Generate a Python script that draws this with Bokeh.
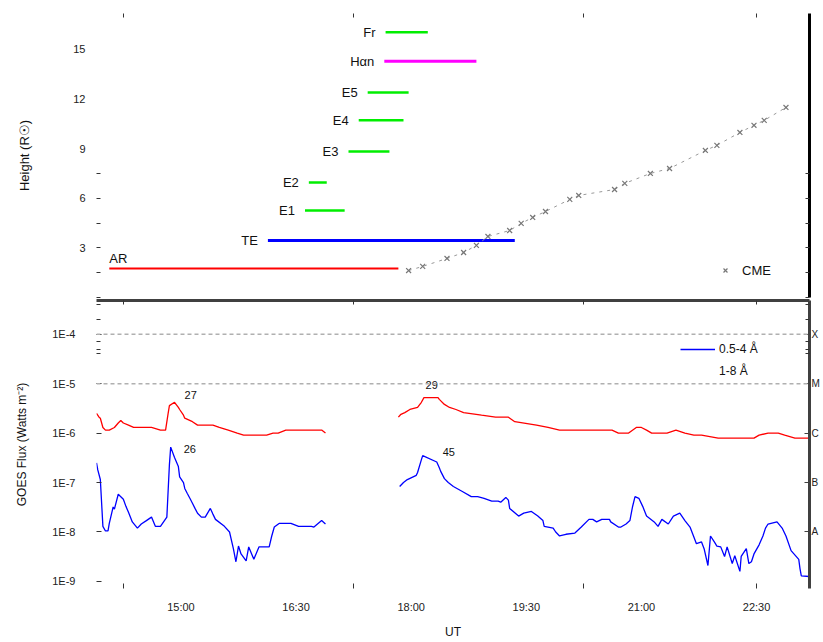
from bokeh.plotting import figure
from bokeh.models import (Range1d, FixedTicker, LinearAxis, LogAxis, CustomJSTickFormatter,
                          Legend, LegendItem, Span, ColumnDataSource)
from bokeh.layouts import column
from bokeh.core.properties import value
from bokeh.embed import file_html
from bokeh.resources import INLINE

FONT = "Liberation Sans"
NAN = float("nan")

# ---------------- data ----------------
event_names = ["AR", "TE", "E1", "E2", "E3", "E4", "E5", "Hαn", "Fr"]
event_start = ["14:04", "16:08", "16:37", "16:40", "17:11", "17:19", "17:26", "17:39", "17:40"]
event_end = ["17:50", "19:21", "17:08", "16:54", "17:43", "17:54", "17:58", "18:51", "18:13"]
event_height = [1.75, 3.45, 5.26, 6.96, 8.83, 10.71, 12.40, 14.28, 16.03]

cme_times = ["17:58", "18:09", "18:28", "18:41", "18:51", "19:00", "19:17", "19:26", "19:35",
             "19:45", "20:04", "20:11", "20:39", "20:47", "21:07", "21:22", "21:50", "21:59",
             "22:17", "22:28", "22:36", "22:53"]
cme_height = [1.63, 1.88, 2.36, 2.72, 3.15, 3.69, 4.05, 4.48, 4.84, 5.20, 5.93, 6.17, 6.53,
              6.90, 7.50, 7.80, 8.89, 9.20, 9.98, 10.41, 10.71, 11.49]

long_times = ["13:54", "13:56", "13:57", "13:59", "14:01", "14:04", "14:08", "14:11", "14:13",
              "14:15", "14:19", "14:23", "14:29", "14:37", "14:44", "14:48", "14:50", "14:51",
              "14:55", "14:58", "14:59", "15:02", "15:03", "15:09", "15:13", "15:21", "15:25",
              "15:30", "15:37", "15:44", "15:49", "16:03", "16:07", "16:12", "16:16", "16:22",
              "16:34", "16:42", "16:50", "16:53", None,
              "17:50", "17:52", "17:55", "17:59", "18:05", "18:08", "18:10", "18:16", "18:21",
              "18:22", "18:26", "18:30", "18:35", "18:41", "18:55", "19:06", "19:16", "19:21",
              "19:38", "19:47", "19:56", "20:17", "20:31", "20:37", "20:42", "20:50", "20:56",
              "21:00", "21:04", "21:08", "21:13", "21:20", "21:27", "21:34", "21:41", "21:47",
              "22:00", "22:16", "22:28", "22:32", "22:39", "22:47", "22:52", "23:00", "23:11"]
long_flux = [2.5e-6, 2.1e-6, 2.0e-6, 1.3e-6, 1.15e-6, 1.15e-6, 1.3e-6, 1.6e-6, 1.8e-6,
             1.6e-6, 1.45e-6, 1.3e-6, 1.3e-6, 1.3e-6, 1.15e-6, 1.15e-6, 2.5e-6, 3.6e-6,
             4.2e-6, 3.3e-6, 3.0e-6, 2.3e-6, 2.0e-6, 1.7e-6, 1.45e-6, 1.45e-6, 1.45e-6,
             1.3e-6, 1.15e-6, 1.0e-6, 9.1e-7, 9.1e-7, 9.1e-7, 1.0e-6, 1.0e-6, 1.15e-6,
             1.15e-6, 1.15e-6, 1.15e-6, 1.0e-6, NAN,
             2.1e-6, 2.4e-6, 2.6e-6, 3.0e-6, 3.3e-6, 4.2e-6, 5.2e-6, 5.2e-6, 5.2e-6,
             4.8e-6, 3.8e-6, 3.3e-6, 3.0e-6, 2.6e-6, 2.3e-6, 2.1e-6, 2.1e-6, 1.7e-6,
             1.45e-6, 1.3e-6, 1.15e-6, 1.15e-6, 1.15e-6, 1.15e-6, 1.0e-6, 1.0e-6, 1.3e-6,
             1.3e-6, 1.15e-6, 1.0e-6, 1.0e-6, 1.0e-6, 1.15e-6, 1.0e-6, 9.1e-7, 9.1e-7,
             7.9e-7, 7.9e-7, 7.9e-7, 9.1e-7, 1.0e-6, 1.0e-6, 9.1e-7, 7.9e-7, 7.9e-7]

short_times = ["13:54", "13:55", "13:57", "13:59", "14:01", "14:03", "14:04", "14:07", "14:08",
               "14:11", "14:15", "14:17", "14:19", "14:22", "14:26", "14:29", "14:33", "14:37",
               "14:40", "14:44", "14:49", "14:51", "14:52", "14:55", "14:58", "14:59", "15:02",
               "15:03", "15:05", "15:07", "15:09", "15:11", "15:13", "15:16", "15:19", "15:23",
               "15:25", "15:27", "15:34", "15:38", "15:41", "15:43", "15:45", "15:47", "15:51",
               "15:53", "15:57", "16:01", "16:05", "16:09", "16:11", "16:13", "16:17", "16:26",
               "16:32", "16:42", "16:44", "16:50", "16:53", None,
               "17:51", "17:54", "17:57", "18:04", "18:05", "18:08", "18:09", "18:20", "18:22",
               "18:23", "18:26", "18:29", "18:33", "18:40", "18:47", "18:52", "18:57", "19:03",
               "19:08", "19:10", "19:14", "19:16", "19:17", "19:24", "19:28", "19:34", "19:39",
               "19:43", "19:44", "19:51", "19:53", "19:56", "20:01", "20:08", "20:13", "20:19",
               "20:22", "20:25", "20:29", "20:35", "20:36", "20:42", "20:44", "20:48", "20:51",
               "20:53", "20:55", "20:58", "21:01", "21:04", "21:10", "21:13", "21:16", "21:21",
               "21:25", "21:30", "21:34", "21:38", "21:41", "21:43", "21:47", "21:49", "21:52",
               "21:54", "21:57", "21:59", "22:02", "22:05", "22:07", "22:11", "22:13", "22:17",
               "22:18", "22:22", "22:24", "22:26", "22:28", "22:32", "22:35", "22:37", "22:39",
               "22:46", "22:50", "22:53", "22:57", "23:03", "23:04", "23:05", "23:11"]
short_flux = [2.5e-7, 1.8e-7, 1.15e-7, 1.3e-8, 1.05e-8, 1.05e-8, 1.5e-8, 3.2e-8, 2.9e-8,
              5.8e-8, 4.6e-8, 3.3e-8, 2.5e-8, 1.6e-8, 1.2e-8, 1.45e-8, 1.7e-8, 2.0e-8,
              1.3e-8, 1.3e-8, 2.0e-8, 2.3e-7, 5.2e-7, 3.2e-7, 2.1e-7, 1.3e-7, 1.0e-7,
              7.6e-8, 6.0e-8, 4.8e-8, 3.8e-8, 3.0e-8, 2.4e-8, 2.0e-8, 2.0e-8, 3.0e-8,
              2.3e-8, 1.8e-8, 1.3e-8, 1.0e-8, 4.6e-9, 2.5e-9, 5.2e-9, 3.6e-9, 2.6e-9,
              5.0e-9, 2.8e-9, 5.0e-9, 5.0e-9, 5.0e-9, 8.3e-9, 1.26e-8, 1.5e-8, 1.5e-8,
              1.3e-8, 1.3e-8, 1.26e-8, 1.7e-8, 1.45e-8, NAN,
              8.3e-8, 1.0e-7, 1.15e-7, 1.4e-7, 1.6e-7, 2.9e-7, 3.5e-7, 2.6e-7, 2.0e-7,
              1.7e-7, 1.2e-7, 1.0e-7, 8.3e-8, 6.6e-8, 5.2e-8, 5.2e-8, 4.8e-8, 4.2e-8,
              4.2e-8, 4.0e-8, 5.0e-8, 4.4e-8, 3.0e-8, 2.1e-8, 2.4e-8, 2.6e-8, 2.1e-8,
              1.7e-8, 1.3e-8, 1.2e-8, 1.0e-8, 8.3e-9, 9.0e-9, 9.5e-9, 1.26e-8, 1.8e-8,
              1.8e-8, 1.6e-8, 1.8e-8, 1.8e-8, 1.6e-8, 1.26e-8, 1.26e-8, 1.45e-8, 1.7e-8,
              3.2e-8, 5.2e-8, 4.8e-8, 3.3e-8, 2.1e-8, 1.6e-8, 1.3e-8, 1.8e-8, 1.45e-8,
              2.1e-8, 2.4e-8, 1.7e-8, 1.26e-8, 7.9e-9, 5.8e-9, 6.3e-9, 4.6e-9, 2.1e-9,
              8.3e-9, 6.3e-9, 5.2e-9, 5.0e-9, 3.2e-9, 5.0e-9, 2.3e-9, 3.3e-9, 1.6e-9,
              3.2e-9, 4.6e-9, 2.3e-9, 2.5e-9, 3.6e-9, 5.5e-9, 8.3e-9, 1.2e-8, 1.45e-8,
              1.6e-8, 1.2e-8, 8.3e-9, 4.2e-9, 2.8e-9, 1.8e-9, 1.3e-9, 1.26e-9]

peak_labels = ["27", "26", "29", "45"]
peak_times = ["14:55", "14:52", "18:16", "18:09"]
peak_flux = [4.2e-6, 5.2e-7, 5.2e-6, 3.5e-7]

x_tick_hours = [15.0, 16.5, 18.0, 19.5, 21.0, 22.5]
x_marks = [14.25, 17.25, 20.25, 22.5]
height_ticks = [3, 6, 9, 12, 15]
height_minor = [0, 1.5, 3, 4.5, 6, 7.5]
flux_ticks = [1e-9, 1e-8, 1e-7, 1e-6, 1e-5, 1e-4]
flux_minor = [4e-4, 2e-4, 7e-5, 5e-5, 4e-5]
goes_classes = ["A", "B", "C", "M", "X"]


def hours(s):
    if s is None:
        return NAN
    h, m = s.split(":")
    return int(h) + int(m) / 60.0


# ---------------- styles ----------------
event_colors = ["#ff0000", "#0000ff", "#00ee00", "#00ee00", "#00ee00", "#00ee00", "#00ee00",
                "#ff00ff", "#00ee00"]
event_widths = [2, 3, 2.5, 2.5, 2.5, 2.5, 2.5, 3, 2.5]
peak_dx = [10, 13, 0, 20]
peak_dy = [-7, 2, -13, -4]
peak_align = ["left", "left", "center", "left"]

W = 822
ML, MR = 96, 12
x_rng = Range1d(13.90, 23.19)

hour_fmt = CustomJSTickFormatter(code="""
const h = Math.floor(tick + 1e-6);
const m = Math.round((tick - h) * 60);
return String(h).padStart(2, '0') + ':' + String(m).padStart(2, '0');
""")
blank_fmt = CustomJSTickFormatter(code="return '';")


def style_axis(ax, line=None, lw=1):
    ax.axis_line_color = line
    ax.axis_line_width = lw
    ax.major_label_text_font = FONT
    ax.major_label_text_font_size = "11px"
    ax.major_label_text_color = "#222222"
    ax.axis_label_text_font = FONT
    ax.axis_label_text_font_size = "12px"
    ax.axis_label_text_font_style = "normal"
    ax.axis_label_text_color = "#111111"
    ax.major_tick_line_color = "#333333"
    ax.minor_tick_line_color = "#333333"


# ---------------- top panel ----------------
top = figure(width=W, height=298, x_range=x_rng, y_range=Range1d(0, 17.17),
             output_backend="svg", toolbar_location=None,
             x_axis_location=None, y_axis_location=None,
             min_border_left=ML, min_border_right=MR, min_border_top=13, min_border_bottom=1)
top.outline_line_color = None
top.xgrid.visible = False
top.ygrid.visible = False

ev = ColumnDataSource(dict(
    x0=[hours(s) for s in event_start], x1=[hours(s) for s in event_end],
    y=event_height, name=event_names, color=event_colors, w=event_widths))
top.segment(x0="x0", y0="y", x1="x1", y1="y", line_color="color", line_width="w", source=ev)

lab = ColumnDataSource(dict(x=[hours(s) for s in event_start[1:]], y=event_height[1:],
                            t=event_names[1:]))
top.text(x="x", y="y", text="t", source=lab, text_align="right", text_baseline="middle",
         x_offset=-10, text_font=value(FONT), text_font_size="13px", text_color="#111111")
top.text(x=[hours(event_start[0])], y=[event_height[0]], text=[event_names[0]],
         text_align="left", text_baseline="bottom", y_offset=-3,
         text_font=value(FONT), text_font_size="13px", text_color="#111111")

cme_src = ColumnDataSource(dict(x=[hours(s) for s in cme_times], y=cme_height))
top.line(x="x", y="y", source=cme_src, line_color="#999999", line_dash="3 5", line_width=1)
cme_r = top.scatter(x="x", y="y", source=cme_src, marker="x", size=7,
                    line_color="#777777", line_width=1.2)

yl = LinearAxis(ticker=FixedTicker(ticks=height_ticks, minor_ticks=height_minor),
                axis_label="Height (R☉)", major_tick_in=0, major_tick_out=0,
                minor_tick_in=4, minor_tick_out=0, major_label_standoff=11,
                axis_label_standoff=38)
style_axis(yl)
yl.axis_label_text_font_size = "13px"
top.add_layout(yl, "left")
yr = LinearAxis(ticker=FixedTicker(ticks=height_ticks, minor_ticks=height_minor),
                formatter=blank_fmt, major_tick_in=0, major_tick_out=0,
                minor_tick_in=4, minor_tick_out=0, major_label_standoff=0)
style_axis(yr, line="#000000", lw=3)
yr.major_label_text_font_size = "0px"
top.add_layout(yr, "right")
ax_a = LinearAxis(ticker=FixedTicker(ticks=[], minor_ticks=x_marks), formatter=blank_fmt,
                  major_tick_in=0, major_tick_out=0, minor_tick_in=4, minor_tick_out=0,
                  major_label_standoff=0)
style_axis(ax_a)
ax_a.major_label_text_font_size = "0px"
top.add_layout(ax_a, "above")

leg_top = Legend(items=[LegendItem(label="CME", renderers=[cme_r])], location=(622, 17),
                 border_line_color=None, background_fill_alpha=0, padding=0, margin=0,
                 glyph_width=14, label_standoff=10, label_text_font=FONT,
                 label_text_font_size="13px", label_text_color="#111111")
top.add_layout(leg_top)

# ---------------- bottom panel ----------------
bot = figure(width=W, height=343, x_range=x_rng, y_range=Range1d(7.2e-10, 4.8e-4),
             y_axis_type="log", output_backend="svg", toolbar_location=None,
             x_axis_location=None, y_axis_location=None,
             min_border_left=ML, min_border_right=MR, min_border_top=2, min_border_bottom=51)
bot.outline_line_color = None
bot.xgrid.visible = False
bot.ygrid.visible = False

for lvl in (1e-4, 1e-5):
    bot.add_layout(Span(location=lvl, dimension="width", line_color="#b0b0b0",
                        line_dash="4 3", line_width=1.5))

long_src = ColumnDataSource(dict(x=[hours(s) for s in long_times], y=long_flux))
short_src = ColumnDataSource(dict(x=[hours(s) for s in short_times], y=short_flux))
r_long = bot.line(x="x", y="y", source=long_src, line_color="#ff0000", line_width=1.3)
r_short = bot.line(x="x", y="y", source=short_src, line_color="#0000ff", line_width=1.3)
r_dummy = bot.line(x=[], y=[], line_alpha=0)

pk = ColumnDataSource(dict(x=[hours(s) for s in peak_times], y=peak_flux, t=peak_labels,
                           dx=peak_dx, dy=peak_dy, al=peak_align))
bot.text(x="x", y="y", text="t", source=pk, x_offset="dx", y_offset="dy", text_align="al",
         text_baseline="middle", text_font=value(FONT), text_font_size="11px",
         text_color="#111111")

ly = LogAxis(ticker=FixedTicker(ticks=flux_ticks, minor_ticks=flux_minor),
             formatter=CustomJSTickFormatter(code="return '1E' + Math.round(Math.log10(tick));"),
             axis_label="GOES Flux (Watts m⁻²)", major_tick_in=5, major_tick_out=0,
             minor_tick_in=4, minor_tick_out=0, major_label_standoff=21,
             axis_label_standoff=20)
style_axis(ly)
bot.add_layout(ly, "left")

ry = LogAxis(ticker=FixedTicker(ticks=flux_ticks[1:], minor_ticks=flux_minor),
             formatter=CustomJSTickFormatter(args=dict(cls=goes_classes),
                                             code="return cls[Math.round(Math.log10(tick)) + 8];"),
             major_tick_in=5, major_tick_out=0, minor_tick_in=4, minor_tick_out=0,
             major_label_standoff=2)
style_axis(ry, line="#404040", lw=3)
ry.major_label_text_font_size = "10px"
ry.major_tick_line_color = "#404040"
bot.add_layout(ry, "right")

ax_top = LinearAxis(ticker=FixedTicker(ticks=[], minor_ticks=x_marks), formatter=blank_fmt,
                    major_tick_in=0, major_tick_out=0, minor_tick_in=4, minor_tick_out=0,
                    major_label_standoff=0)
style_axis(ax_top, line="#404040", lw=3)
ax_top.major_label_text_font_size = "0px"
bot.add_layout(ax_top, "above")

xb = LinearAxis(ticker=FixedTicker(ticks=x_tick_hours, minor_ticks=x_marks), formatter=hour_fmt,
                axis_label="UT", major_tick_in=0, major_tick_out=0, minor_tick_in=5,
                minor_tick_out=0, major_label_standoff=12, axis_label_standoff=9)
style_axis(xb)
bot.add_layout(xb, "below")

leg_bot = Legend(items=[LegendItem(label="0.5-4 Å", renderers=[r_short]),
                        LegendItem(label="1-8 Å", renderers=[r_dummy])],
                 location=(584, 208), border_line_color=None, background_fill_alpha=0,
                 padding=0, margin=0, spacing=4, glyph_width=35, glyph_height=18,
                 label_height=18, label_standoff=4, label_text_font=FONT,
                 label_text_font_size="12px", label_text_color="#111111")
bot.add_layout(leg_bot)

page = column(top, bot, spacing=0)
open("out.html", "w").write(file_html(page, INLINE))
